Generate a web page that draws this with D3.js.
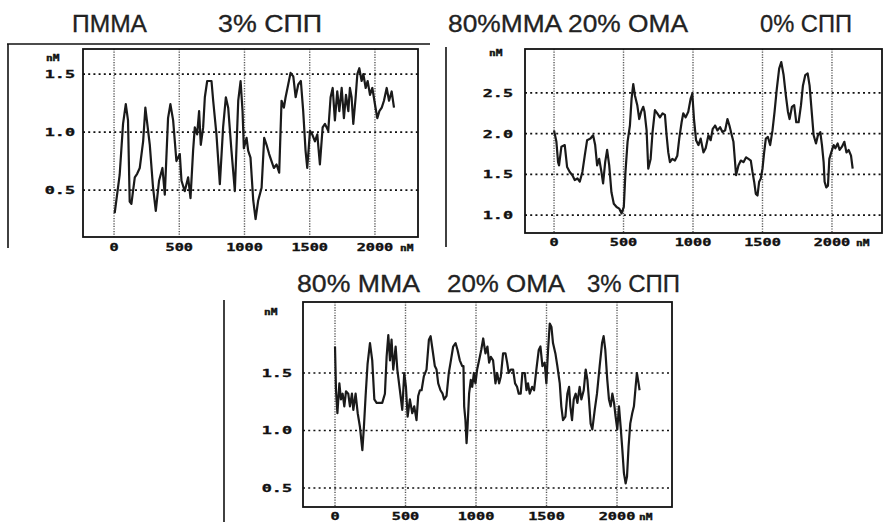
<!DOCTYPE html>
<html>
<head>
<meta charset="utf-8">
<script src="https://cdn.jsdelivr.net/npm/d3@7"></script>
<style>
body { margin: 0; background: #fff; }
</style>
</head>
<body>
<script>
// Profile data (position in nM, height in nM)
var xTicks = [0, 500, 1000, 1500, 2000];

// ПММА 3% СПП
var pmmaNm = [5,43,69,90,107,120,133,159,177,197,223,240,274,299,320,345,371,389,414,432,453,478,504,517,542,568,586,606,619,637,652,665,683,696,714,747,760,785,811,836,857,875,900,926,952,970,985,995,1016,1028,1046,1067,1085,1105,1131,1151,1169,1189,1207,1225,1246,1266,1284,1302,1315,1335,1353,1374,1392,1412,1432,1450,1468,1481,1502,1519,1540,1558,1578,1599,1617,1642,1660,1676,1693,1711,1727,1745,1762,1778,1796,1808,1821,1834,1852,1865,1880,1898,1911,1929,1944,1962,1980,2000,2018,2034,2052,2069,2090,2108,2128,2146];
var pmmaVal = [0.30,0.63,1.07,1.24,1.10,0.40,0.38,0.61,0.64,0.69,0.92,1.21,0.89,0.52,0.32,0.58,0.69,0.46,1.12,1.24,1.10,0.75,0.81,0.58,0.49,0.61,0.43,0.84,1.04,0.98,1.18,0.89,1.04,1.30,1.44,1.44,1.27,0.98,0.55,1.04,1.30,1.21,0.84,0.49,1.27,1.44,1.18,0.86,0.95,0.84,0.78,0.41,0.25,0.41,0.52,0.95,0.89,0.81,0.75,0.69,0.72,0.65,1.27,1.21,1.30,1.41,1.51,1.48,1.30,1.41,1.44,1.18,0.84,0.69,1.01,0.98,0.92,0.98,0.72,1.04,1.07,1.01,1.30,1.38,1.10,1.35,1.18,1.38,1.12,1.32,1.18,1.38,1.30,1.07,1.30,1.50,1.55,1.44,1.50,1.38,1.44,1.32,1.38,1.24,1.12,1.18,1.21,1.27,1.38,1.27,1.35,1.21];
var pmmaTicks = [0.5, 1.0, 1.5];

// 80%MMA 20% OMA 0% СПП
var omaNm = [0,17,29,36,53,77,94,113,132,149,168,185,204,221,238,262,281,296,310,325,341,353,368,382,397,413,430,450,469,486,502,514,529,546,558,570,582,599,613,627,642,651,666,678,695,709,726,743,762,781,798,810,822,834,851,870,887,901,918,930,947,966,983,995,1007,1022,1039,1055,1075,1091,1111,1127,1142,1159,1176,1195,1212,1231,1248,1262,1279,1291,1310,1327,1344,1363,1382,1399,1416,1428,1440,1452,1464,1476,1488,1500,1512,1524,1539,1555,1572,1587,1603,1620,1635,1652,1668,1683,1695,1712,1728,1743,1760,1777,1791,1808,1825,1839,1856,1868,1885,1899,1916,1928,1940,1947,1959,1971,1981,1995,2012,2024,2041,2055,2072,2089,2104,2120,2137,2149];
var omaVal = [2.04,1.90,1.65,1.61,1.84,1.86,1.59,1.53,1.49,1.43,1.45,1.41,1.53,1.73,1.92,1.94,1.98,1.86,1.61,1.69,1.53,1.39,1.65,1.80,1.61,1.28,1.14,1.10,1.08,1.02,1.10,1.53,1.90,2.10,2.43,2.61,2.47,2.35,2.18,2.27,2.33,2.27,2.04,1.57,1.69,2.02,2.29,2.25,2.20,2.25,2.23,1.98,1.77,1.65,1.69,1.67,1.73,1.94,2.14,2.25,2.20,2.27,2.43,2.49,2.18,1.92,1.86,1.94,1.77,1.82,1.98,1.92,2.06,2.10,2.04,2.08,2.02,2.04,2.18,2.10,1.98,1.90,1.49,1.61,1.67,1.65,1.71,1.69,1.67,1.53,1.41,1.26,1.24,1.41,1.45,1.57,1.77,1.94,1.96,1.86,2.04,2.27,2.55,2.80,2.88,2.72,2.47,2.27,2.18,2.33,2.35,2.14,2.14,2.35,2.59,2.72,2.74,2.59,2.23,1.98,1.88,1.98,2.02,1.86,1.65,1.41,1.34,1.36,1.69,1.77,1.86,1.82,1.88,1.80,1.84,1.90,1.77,1.80,1.73,1.57];
var omaTicks = [1.0, 1.5, 2.0, 2.5];

// 80% MMA 20% OMA 3% СПП
var oma3Nm = [0,7,17,31,42,54,66,78,94,106,120,130,146,161,177,194,205,217,231,248,264,279,295,314,335,354,366,378,390,401,413,430,442,460,477,491,503,515,531,548,562,578,590,602,614,630,649,666,678,692,708,720,732,748,763,774,791,807,822,838,855,869,885,902,911,916,925,933,940,951,963,973,985,996,1008,1022,1037,1051,1067,1081,1093,1105,1121,1138,1150,1164,1176,1192,1209,1221,1232,1247,1263,1277,1291,1303,1317,1329,1346,1358,1369,1381,1398,1412,1428,1445,1457,1471,1487,1499,1511,1523,1535,1546,1563,1577,1594,1605,1617,1634,1648,1660,1669,1681,1693,1707,1719,1735,1747,1764,1778,1790,1801,1813,1825,1842,1858,1877,1894,1905,1917,1931,1943,1955,1967,1979,1990,2002,2014,2026,2038,2049,2061,2071,2082,2094,2108,2120,2132,2141,2153,2160];
var oma3Val = [1.73,1.35,1.15,1.41,1.27,1.32,1.21,1.34,1.32,1.21,1.32,1.18,1.32,1.15,1.03,0.83,1.03,1.30,1.58,1.76,1.61,1.27,1.24,1.24,1.24,1.32,1.64,1.83,1.61,1.79,1.53,1.73,1.53,1.35,1.18,1.50,1.38,1.12,1.27,1.15,1.21,1.09,1.30,1.35,1.35,1.47,1.53,1.79,1.82,1.70,1.56,1.53,1.41,1.35,1.32,1.27,1.30,1.50,1.61,1.73,1.76,1.70,1.61,1.56,1.56,1.21,1.09,0.89,1.03,1.32,1.44,1.38,1.50,1.41,1.53,1.61,1.70,1.80,1.67,1.73,1.59,1.64,1.61,1.41,1.50,1.41,1.47,1.67,1.67,1.59,1.50,1.53,1.53,1.41,1.38,1.32,1.32,1.50,1.50,1.35,1.41,1.32,1.38,1.35,1.53,1.70,1.73,1.56,1.59,1.41,1.70,1.93,1.90,1.76,1.67,1.56,1.41,1.21,1.09,1.12,1.32,1.38,1.21,1.09,1.27,1.32,1.24,1.38,1.27,1.35,1.53,1.44,1.27,1.06,1.01,1.18,1.32,1.56,1.76,1.82,1.70,1.44,1.27,1.21,1.32,1.24,1.12,1.01,1.21,1.03,0.83,0.63,0.54,0.60,0.86,1.06,1.15,1.21,1.38,1.50,1.41,1.35];
var oma3Ticks = [0.5, 1.0, 1.5];

var svg = d3.select("body")
	.append("svg")
	.attr("width", 883)
	.attr("height", 522);

var monoFont = "DejaVu Sans Mono";
var titleFont = "Liberation Sans, Arial, sans-serif";

// Wide bold "printer" digits: monospace stretched sideways
function wideText(g, str, x, y, anchor, size, sx) {
	g.append("text")
		.text(str)
		.attr("transform", "translate(" + x + "," + y + ") scale(" + sx + ",1)")
		.attr("font-family", monoFont)
		.attr("font-weight", "bold")
		.attr("font-size", size + "px")
		.attr("text-anchor", anchor)
		.attr("fill", "#111")
		.attr("stroke", "#111")
		.attr("stroke-width", 0.35);
}

function drawPanel(p) {
	var x = d3.scaleLinear().domain(p.xDomain).range([p.left, p.right]);
	var y = d3.scaleLinear().domain(p.yDomain).range([p.bottom, p.top]);
	var g = svg.append("g");

	// Frame lines around the panel (from the scanned page)
	p.frame.forEach(function(f) {
		g.append("line")
			.attr("x1", f[0]).attr("y1", f[1]).attr("x2", f[2]).attr("y2", f[3])
			.attr("stroke", "#111").attr("stroke-width", 1.6);
	});

	// Titles
	p.titles.forEach(function(t) {
		g.append("text")
			.text(t.text)
			.attr("x", t.x).attr("y", t.y)
			.attr("textLength", t.len)
			.attr("lengthAdjust", "spacingAndGlyphs")
			.attr("font-family", titleFont)
			.attr("font-size", "23px")
			.attr("fill", "#222")
			.attr("stroke", "#222")
			.attr("stroke-width", 0.3);
	});

	// Vertical grid (fine grey dots)
	g.selectAll("line.vgrid")
		.data(xTicks)
		.enter()
		.append("line")
		.attr("class", "vgrid")
		.attr("x1", d => x(d)).attr("x2", d => x(d))
		.attr("y1", p.top).attr("y2", p.bottom)
		.attr("stroke", "#555")
		.attr("stroke-width", 1.4)
		.attr("stroke-dasharray", "1.2,1.4");

	// Horizontal grid (coarse black dots)
	g.selectAll("line.hgrid")
		.data(p.yTicks)
		.enter()
		.append("line")
		.attr("class", "hgrid")
		.attr("x1", p.left).attr("x2", p.right)
		.attr("y1", d => y(d)).attr("y2", d => y(d))
		.attr("stroke", "#111")
		.attr("stroke-width", 1.7)
		.attr("stroke-dasharray", "2,3.2");

	// Profile trace
	var line = d3.line()
		.x((d, i) => x(p.nm[i]))
		.y(d => y(d));
	g.append("path")
		.datum(p.val)
		.attr("d", line)
		.attr("fill", "none")
		.attr("stroke", "#1a1a1a")
		.attr("stroke-width", 2.2)
		.attr("stroke-linejoin", "round");

	// Plot box
	g.append("rect")
		.attr("x", p.left).attr("y", p.top)
		.attr("width", p.right - p.left).attr("height", p.bottom - p.top)
		.attr("fill", "none")
		.attr("stroke", "#111")
		.attr("stroke-width", 1.8);

	// Y tick labels
	p.yTicks.forEach(function(v) {
		wideText(g, d3.format(".1f")(v), p.left - p.yLabelGap, y(v) + 4, "end", 10.5, 1.6);
	});
	// Y unit
	wideText(g, "nM", p.unitX, p.unitY, "start", 8, 1.4);

	// X tick labels
	xTicks.forEach(function(v) {
		wideText(g, String(v), x(v), p.xLabelY, "middle", 10.5, 1.45);
	});
	wideText(g, "nM", x(2000) + p.nmGap, p.xLabelY, "start", 8, 1.4);
}

drawPanel({
	left: 83, right: 418, top: 49, bottom: 237,
	xDomain: [-238, 2330], yDomain: [0.095, 1.716],
	yTicks: pmmaTicks, nm: pmmaNm, val: pmmaVal,
	yLabelGap: 8, unitX: 46, unitY: 61, xLabelY: 251, nmGap: 25,
	frame: [[7, 44, 430, 44], [8, 44, 8, 248]],
	titles: [
		{text: "ПММА", x: 72, y: 32, len: 75},
		{text: "3% СПП", x: 218, y: 32, len: 104}
	]
});

drawPanel({
	left: 525, right: 882, top: 49, bottom: 233,
	xDomain: [-209, 2360], yDomain: [0.78, 3.04],
	yTicks: omaTicks, nm: omaNm, val: omaVal,
	yLabelGap: 12, unitX: 489, unitY: 56, xLabelY: 246, nmGap: 24,
	frame: [[446, 47, 446, 247]],
	titles: [
		{text: "80%MMA 20% OMA", x: 448, y: 32, len: 240},
		{text: "0% СПП", x: 760, y: 32, len: 92}
	]
});

drawPanel({
	left: 303, right: 672, top: 302, bottom: 507,
	xDomain: [-227, 2390], yDomain: [0.335, 2.117],
	yTicks: oma3Ticks, nm: oma3Nm, val: oma3Val,
	yLabelGap: 11, unitX: 264, unitY: 315, xLabelY: 520, nmGap: 22,
	frame: [[224, 300, 224, 522]],
	titles: [
		{text: "80% MMA", x: 297, y: 292, len: 123},
		{text: "20% OMA", x: 447, y: 292, len: 118},
		{text: "3% СПП", x: 587, y: 292, len: 93}
	]
});
</script>
</body>
</html>
